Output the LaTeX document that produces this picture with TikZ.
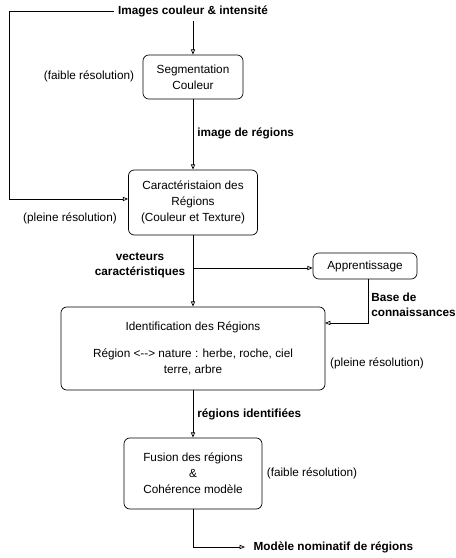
\documentclass[tikz,border=0pt]{standalone}
\usepackage{fontspec}
\setmainfont{Liberation Sans}
\usetikzlibrary{arrows.meta,calc}

\begin{document}
\begin{tikzpicture}[x=0.85pt, y=-0.85pt, line width=0.6pt,
  every node/.style={font=\fontsize{10}{13.6}\selectfont},
  bloc/.style={draw, rounded corners=5pt, align=center, inner sep=0pt},
  lbl/.style={font=\fontsize{10}{12.8}\selectfont\bfseries, align=left},
  arr/.style={-{Triangle[open, length=4.5pt, width=3.6pt]}}]
\useasboundingbox (0,0) rectangle (456,558);

\node[lbl] (in) at (193,11) {Images couleur \& intensit\'e};

\node[bloc, minimum width=85pt, minimum height=37.4pt] (seg) at (193,77) {Segmentation\\Couleur};
\node (segres) at (89,76) {(faible r\'esolution)};

\node[bloc, minimum width=109.7pt, minimum height=55.3pt] (car) at (193,202.5) {Caract\'eristaion des\\R\'egions\\(Couleur et Texture)};
\node (carres) at (70,218) {(pleine r\'esolution)};

\node[bloc, minimum width=88.4pt, minimum height=22.1pt] (appr) at (365,266) {Apprentissage};

\node[bloc, minimum width=224.4pt, minimum height=70.6pt] (ident) at (193,348.5) {Identification des R\'egions\\[10pt]R\'egion <{-}{-}> nature : herbe, roche, ciel\\terre, arbre};
\node (identres) at (377,363) {(pleine r\'esolution)};

\node[bloc, minimum width=117.3pt, minimum height=60.4pt] (fus) at (193,473.5) {Fusion des r\'egions\\\&\\Coh\'erence mod\`ele};
\node (fusres) at (312,473) {(faible r\'esolution)};

\node[lbl, anchor=west, inner xsep=7pt] (out) at (245,547) {Mod\`ele nominatif de r\'egions};

% liens
\coordinate (fb) at (9,11);
\coordinate (br) at (193,268);
\coordinate (kin) at (325,323);
\draw[arr] (in.south) -- (seg.north);
\draw[arr] (in.west) -- (fb) |- ([yshift=3pt]car.west);
\draw[arr] (seg.south) -- node[lbl, anchor=west, pos=0.48] (l1) {image de r\'egions} (car.north);
\draw[arr] (car.south) -- (ident.north);
\draw[arr] (br) -- (br -| appr.west);
\draw[arr] ([xshift=2.5pt]appr.south) |- (kin);
\draw[arr] (ident.south) -- node[lbl, anchor=west, pos=0.5] (l2) {r\'egions identifi\'ees} (fus.north);
\draw[arr] (fus.south) |- (out.west);

\node[lbl, align=center] (vc) at (140,265.5) {vecteurs\\caract\'eristiques};
\node[lbl, anchor=west] (bc) at (367,304.5) {Base de\\connaissances};
\end{tikzpicture}
\end{document}
